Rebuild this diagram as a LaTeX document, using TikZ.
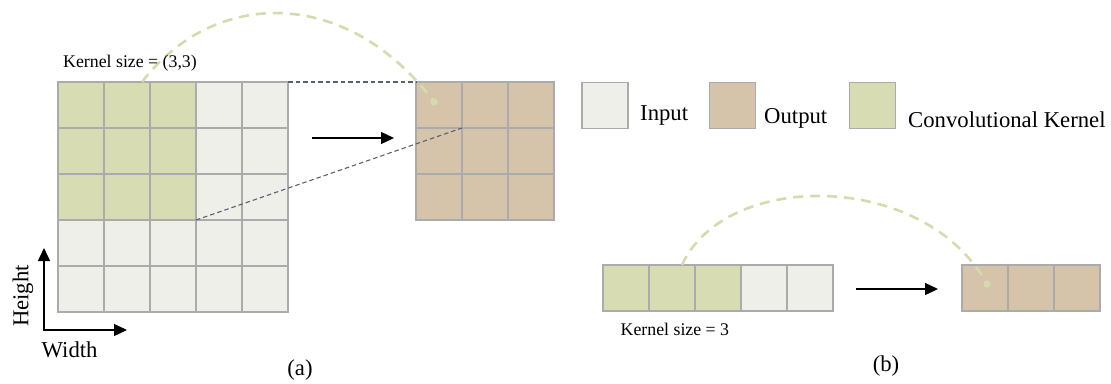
\documentclass[tikz,border=0pt]{standalone}
\usepackage{fontspec}
\setmainfont{Liberation Serif}
\usetikzlibrary{arrows.meta}
\definecolor{infill}{HTML}{EFEFE9}
\definecolor{outfill}{HTML}{D5C4A9}
\definecolor{kerfill}{HTML}{D8DCB2}
\definecolor{kerdash}{HTML}{D6DBAD}
\definecolor{gridline}{HTML}{ABABAB}
\definecolor{linkgray}{HTML}{5A6070}
\tikzset{
	cell/.style={draw=gridline,line width=1.3pt,minimum width=46pt,minimum height=46pt,inner sep=0pt,outer sep=0pt},
	flow/.style={-{Triangle[length=13pt,width=12pt]},line width=1.3pt},
	link/.style={linkgray,line width=1.1pt,dash pattern=on 4.5pt off 3pt},
	reach/.style={kerdash,line width=2.6pt,dash pattern=on 10pt off 7pt},
	big/.style={font=\fontsize{22.7}{25}\selectfont},
	small/.style={font=\fontsize{17.8}{20}\selectfont}
}
\begin{document}
\begin{tikzpicture}[x=1pt,y=-1pt]
		\useasboundingbox (0,0) rectangle (1111,383);
		\foreach \r in {0,...,4}
			\foreach \c in {0,...,4}{
				\ifnum\r<3 \ifnum\c<3 \def\tone{kerfill}\else\def\tone{infill}\fi \else\def\tone{infill}\fi
				\node[cell,fill=\tone] (in-\r-\c) at ({81+46*\c},{105+46*\r}) {};
			}
		\foreach \r in {0,1,2}
			\foreach \c in {0,1,2}
				\node[cell,fill=outfill] (out-\r-\c) at ({439+46*\c},{105+46*\r}) {};
		\foreach \c in {0,...,4}{
			\ifnum\c<3 \def\tone{kerfill}\else\def\tone{infill}\fi
			\node[cell,fill=\tone] (row-\c) at ({626+46*\c},288) {};
		}
		\foreach \c in {0,1,2}
			\node[cell,fill=outfill] (res-\c) at ({985+46*\c},288) {};
		
		\draw[link] (in-0-4.north east) -- (out-0-0.north west);
		\draw[link] (in-2-2.south east) -- (out-0-0.south east);
		
		\coordinate (reach-a) at (142,82);
		\coordinate (dot-a) at (434,102);
		\coordinate (reach-b) at (682,265);
		\coordinate (dot-b) at (987,284);
		\draw[reach] (reach-a) .. controls (215,-13) and (348,-13) .. (dot-a);
		\draw[reach] (reach-b) .. controls (725,170) and (924,170) .. (dot-b);
		\fill[kerdash] (dot-a) circle (3.6pt) (dot-b) circle (3.6pt);
		
		\coordinate (go-a) at (312,138);
		\coordinate (to-a) at (394,138);
		\coordinate (go-b) at (856,289);
		\coordinate (to-b) at (938,289);
		\draw[flow] (go-a) -- (to-a);
		\draw[flow] (go-b) -- (to-b);
		\coordinate (origin) at (44,330);
		\coordinate (h-tip) at (44,248);
		\coordinate (w-tip) at (127,330);
		\draw[flow,{Triangle[length=13pt,width=12pt]}-{Triangle[length=13pt,width=12pt]}] (h-tip) -- (origin) -- (w-tip);
		
		\node[cell,fill=infill] (key-in) at (605,105.3) {};
		\node[cell,fill=outfill] (key-out) at (732.5,105.3) {};
		\node[cell,fill=kerfill] (key-ker) at (872.5,105.3) {};
		\node[big,anchor=base west,inner sep=0pt] (key-in-text) at (640,120) {Input};
		\node[big,anchor=base west,inner sep=0pt] (key-out-text) at (764,123.5) {Output};
		\node[big,anchor=base west,inner sep=0pt] (key-ker-text) at (908,127) {Convolutional Kernel};
		
		\node[small,anchor=base west,inner sep=0pt] (size-a) at (63,67) {Kernel size = (3,3)};
		\node[small,anchor=base west,inner sep=0pt] (size-b) at (620.5,335) {Kernel size = 3};
		\node[big,rotate=90] (height) at (23,296) {Height};
		\node[big,anchor=base west,inner sep=0pt] (width) at (41.5,357) {Width};
		\node[big] (cap-a) at (300,370) {(a)};
		\node[big] (cap-b) at (886,366) {(b)};
		\end{tikzpicture}
\end{document}
